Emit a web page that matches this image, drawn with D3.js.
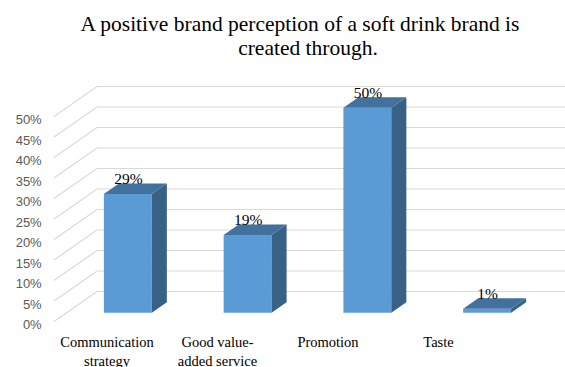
<!DOCTYPE html>
<html>
<head>
<meta charset="utf-8">
<script src="https://cdn.jsdelivr.net/npm/d3@7"></script>
<style>
  html, body { margin: 0; padding: 0; background: #fff; }
  svg { display: block; }
</style>
</head>
<body>
<svg id="chart" width="565" height="367"></svg>
<script>
// Share of respondents naming each driver of a positive brand perception
const categories = ["Communication strategy", "Good value-added service", "Promotion", "Taste"];
const values = [29, 19, 50, 1];
const tickValues = [0, 5, 10, 15, 20, 25, 30, 35, 40, 45, 50];
const tickLabels = ["0%", "5%", "10%", "15%", "20%", "25%", "30%", "35%", "40%", "45%", "50%"];
const titleLines = ["A positive brand perception of a soft drink brand is", "created through."];

const W = 565, H = 367;
const SERIF = "Liberation Serif, Times New Roman, serif";
const SANS = "Liberation Sans, Arial, sans-serif";
const svg = d3.select("#chart");

// Oblique 3D projection: depth z in [0,1] shifts points right and up
const DX = 43, DY = -30;
const zFront = 0.29, zBack = 0.64;

const y = d3.scaleLinear().domain([0, 50]).range([321.5, 116.5]);
const x = d3.scaleBand().domain(categories).range([55.5, 534.5]);
const xLabel = d3.scaleBand().domain(categories).range([51.75, 493.75]);
const wallX = 54;
const barW = x.bandwidth() * 0.4;

const proj = (px, v, z) => [px + z * DX, y(v) + z * DY];

// Title
const title = svg.append("g")
  .selectAll("text")
  .data(titleLines)
  .join("text")
  .attr("x", (d, i) => 300 + i * 8)
  .attr("y", (d, i) => 31 + i * 24)
  .attr("text-anchor", "middle")
  .style("font-family", SERIF)
  .style("font-size", "21.5px")
  .attr("fill", "#000")
  .text(d => d);

// Gridlines: side-wall diagonals and back-wall horizontals
const grid = svg.append("g").attr("stroke", "#d9d9d9").attr("stroke-width", 1.2).attr("fill", "none");
grid.selectAll("path")
  .data(tickValues)
  .join("path")
  .attr("d", v => {
    const a = proj(wallX, v, 0), b = proj(wallX, v, 1);
    return `M${a[0]},${a[1]}L${b[0]},${b[1]}L${W + 20},${b[1]}`;
  });

// Value axis labels
svg.append("g")
  .selectAll("text")
  .data(tickValues)
  .join("text")
  .attr("x", 41.7)
  .attr("y", v => y(v) + 3)
  .attr("dy", "0.35em")
  .attr("text-anchor", "end")
  .style("font-family", SANS)
  .style("font-size", "13px")
  .attr("fill", "#595959")
  .text((v, i) => tickLabels[i]);

// Bars
const bars = svg.append("g")
  .selectAll("g")
  .data(categories.map((c, i) => ({ c, v: values[i] })))
  .join("g");

const poly = pts => "M" + pts.map(p => p.join(",")).join("L") + "Z";
const edges = d => {
  const xl = x(d.c) + (x.bandwidth() - barW) / 2;
  return [xl, xl + barW];
};

bars.append("path")
  .attr("fill", "#5b9bd5")
  .attr("d", d => {
    const [xl, xr] = edges(d);
    return poly([proj(xl, 0, zFront), proj(xl, d.v, zFront), proj(xr, d.v, zFront), proj(xr, 0, zFront)]);
  });
bars.append("path")
  .attr("fill", "#386185")
  .attr("d", d => {
    const [, xr] = edges(d);
    return poly([proj(xr, 0, zFront), proj(xr, d.v, zFront), proj(xr, d.v, zBack), proj(xr, 0, zBack)]);
  });
bars.append("path")
  .attr("fill", "#41719c")
  .attr("d", d => {
    const [xl, xr] = edges(d);
    return poly([proj(xl, d.v, zFront), proj(xr, d.v, zFront), proj(xr, d.v, zBack), proj(xl, d.v, zBack)]);
  });

// Data labels
bars.append("text")
  .attr("x", d => proj(x(d.c) + x.bandwidth() / 2, d.v, zFront)[0] + 0.5)
  .attr("y", d => proj(0, d.v, zBack)[1] + 1)
  .attr("text-anchor", "middle")
  .style("font-family", SERIF)
  .style("font-size", "15.5px")
  .attr("fill", "#000")
  .text(d => d.v + "%");

// Category labels, wrapped to fit the band
const maxW = 100;
const catG = svg.append("g")
  .style("font-family", SERIF)
  .style("font-size", "14.5px")
  .attr("fill", "#000")
  .attr("text-anchor", "middle");

categories.forEach(c => {
  const cx = xLabel(c) + xLabel.bandwidth() / 2;
  const t = catG.append("text").attr("x", cx).attr("y", 346.7);
  const tokens = c.match(/[^\s-]+-?\s*/g);
  const lines = [];
  let cur = "";
  const probe = catG.append("text").attr("visibility", "hidden");
  tokens.forEach(tok => {
    const trial = cur + tok;
    probe.text(trial.trim());
    if (cur && probe.node().getComputedTextLength() > maxW) {
      lines.push(cur.trim());
      cur = tok;
    } else {
      cur = trial;
    }
  });
  if (cur) lines.push(cur.trim());
  probe.remove();
  lines.forEach((ln, i) => {
    t.append("tspan").attr("x", cx).attr("dy", i === 0 ? 0 : 19).text(ln);
  });
});
</script>
</body>
</html>
